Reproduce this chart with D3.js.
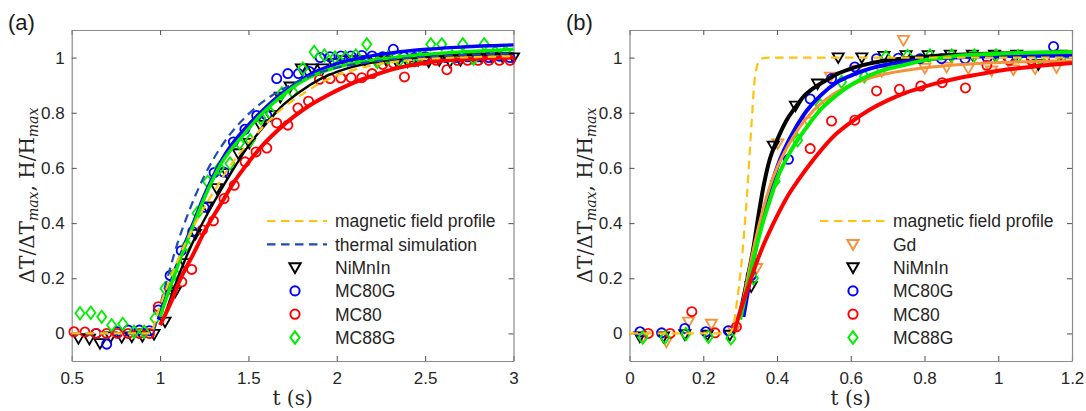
<!DOCTYPE html>
<html>
<head>
<meta charset="utf-8">
<script src="https://cdn.jsdelivr.net/npm/d3@7"></script>
<style>
  body { margin: 0; background: #fff; }
  svg { display: block; }
</style>
</head>
<body>
<svg id="chart" width="1086" height="411"></svg>
<script>
// ---------- shared axis values ----------
const yTicks = [0, 0.2, 0.4, 0.6, 0.8, 1];
const xTicksA = [0.5, 1, 1.5, 2, 2.5, 3];
const xTicksB = [0, 0.2, 0.4, 0.6, 0.8, 1, 1.2];
const legendA = ["magnetic field profile", "thermal simulation", "NiMnIn", "MC80G", "MC80", "MC88G"];
const legendB = ["magnetic field profile", "Gd", "NiMnIn", "MC80G", "MC80", "MC88G"];

// ---------- panel (a): measured points [t (s), normalised value] ----------
const aNiMnIn = [[0.538,-0.018],[0.600,-0.020],[0.660,-0.036],[0.720,-0.012],[0.783,-0.014],[0.840,-0.012],[0.900,-0.010],[0.966,-0.003],[1.028,0.042],[1.085,0.150],[1.141,0.254],[1.200,0.360],[1.264,0.459],[1.320,0.526],[1.380,0.580],[1.443,0.652],[1.505,0.690],[1.566,0.755],[1.625,0.790],[1.680,0.857],[1.736,0.894],[1.800,0.960],[1.860,0.960],[1.920,0.960],[1.980,0.980],[2.040,0.990],[2.100,0.990],[2.160,0.990],[2.220,0.990],[2.280,0.990],[2.340,0.985],[2.400,0.985],[2.460,0.990],[2.520,0.985],[2.580,0.990],[2.640,0.985],[2.700,0.990],[2.760,1.000],[2.820,1.000],[2.880,1.000],[2.940,1.000],[3.000,1.000]];
const aMC80G = [[0.638,0.000],[0.698,-0.039],[0.758,0.006],[0.820,0.012],[0.883,0.012],[0.940,0.010],[0.990,0.085],[1.057,0.210],[1.120,0.300],[1.185,0.369],[1.249,0.457],[1.306,0.583],[1.360,0.585],[1.415,0.694],[1.480,0.740],[1.547,0.790],[1.604,0.790],[1.660,0.924],[1.723,0.942],[1.783,0.942],[1.845,0.950],[1.906,1.000],[1.962,1.003],[2.023,1.006],[2.080,1.006],[2.142,1.008],[2.200,1.006],[2.260,1.003],[2.320,1.030],[2.380,1.003],[2.440,1.000],[2.500,1.003],[2.560,1.000],[2.620,1.000],[2.680,1.000],[2.740,1.003],[2.800,1.003],[2.860,1.000],[2.920,1.005],[2.980,1.000]];
const aMC80 = [[0.513,0.006],[0.575,0.005],[0.638,0.000],[0.698,0.000],[0.758,0.000],[0.820,0.000],[0.883,0.000],[0.940,0.000],[0.990,0.097],[1.055,0.160],[1.123,0.187],[1.179,0.232],[1.240,0.375],[1.302,0.408],[1.362,0.489],[1.420,0.537],[1.481,0.622],[1.543,0.658],[1.604,0.672],[1.660,0.763],[1.723,0.755],[1.780,0.817],[1.840,0.842],[1.902,0.921],[1.962,0.924],[2.023,0.926],[2.081,0.927],[2.142,0.927],[2.200,0.942],[2.260,0.975],[2.320,0.980],[2.383,0.930],[2.440,0.985],[2.500,0.990],[2.562,0.990],[2.623,0.956],[2.683,0.990],[2.740,0.990],[2.800,0.990],[2.860,0.990],[2.920,0.990],[2.980,0.990]];
const aMC88G = [[0.547,0.073],[0.608,0.075],[0.670,0.060],[0.726,0.030],[0.789,0.034],[0.853,0.006],[0.910,0.006],[0.972,0.054],[1.028,0.163],[1.085,0.217],[1.151,0.320],[1.210,0.436],[1.270,0.550],[1.335,0.600],[1.396,0.616],[1.450,0.690],[1.510,0.700],[1.570,0.780],[1.626,0.797],[1.689,0.870],[1.750,0.876],[1.808,0.960],[1.872,1.020],[1.930,1.008],[1.990,1.000],[2.050,1.000],[2.108,1.008],[2.170,1.048],[2.230,0.984],[2.290,1.000],[2.355,0.990],[2.415,0.990],[2.470,1.000],[2.532,1.048],[2.594,1.048],[2.653,1.005],[2.713,1.048],[2.774,0.996],[2.834,1.048],[2.896,1.020],[2.955,1.020]];

// panel (a): fitted curves, field profile and simulation
const aFitNiMnIn = [[1.02,0.05],[1.05,0.11],[1.1,0.2],[1.15,0.28],[1.2,0.35],[1.3,0.47],[1.4,0.58],[1.5,0.68],[1.6,0.76],[1.7,0.83],[1.8,0.88],[1.9,0.92],[2.0,0.948],[2.1,0.968],[2.2,0.982],[2.4,0.997],[2.6,1.006],[2.8,1.011],[3.0,1.015]];
const aFitMC80G = [[0.99,0.05],[1.05,0.165],[1.1,0.255],[1.15,0.34],[1.2,0.42],[1.25,0.5],[1.3,0.57],[1.35,0.63],[1.4,0.68],[1.47,0.735],[1.566,0.8],[1.65,0.85],[1.755,0.9],[1.85,0.94],[1.943,0.965],[2.04,0.985],[2.132,0.998],[2.23,1.01],[2.32,1.018],[2.51,1.03],[2.7,1.038],[2.92,1.044],[3.0,1.046]];
const aFitMC80 = [[1.0,0.03],[1.06,0.11],[1.11,0.19],[1.19,0.29],[1.26,0.38],[1.34,0.465],[1.42,0.55],[1.5,0.62],[1.57,0.675],[1.66,0.733],[1.755,0.785],[1.85,0.828],[1.943,0.862],[2.04,0.893],[2.132,0.918],[2.23,0.94],[2.32,0.958],[2.42,0.972],[2.51,0.982],[2.6,0.989],[2.7,0.994],[2.8,0.997],[2.92,0.999],[3.0,1.0]];
const aFitMC88G = [[1.0,0.06],[1.05,0.155],[1.1,0.245],[1.15,0.33],[1.2,0.41],[1.25,0.49],[1.3,0.56],[1.35,0.62],[1.4,0.665],[1.47,0.718],[1.566,0.79],[1.65,0.84],[1.755,0.894],[1.85,0.93],[1.943,0.954],[2.04,0.972],[2.132,0.984],[2.23,0.993],[2.32,1.0],[2.51,1.012],[2.7,1.02],[2.92,1.027],[3.0,1.03]];
const aField = [[0.5,0],[0.95,0],[0.97,0.04],[1.0,0.1],[1.05,0.185],[1.1,0.265],[1.2,0.4],[1.3,0.51],[1.4,0.61],[1.5,0.69],[1.6,0.76],[1.7,0.82],[1.8,0.865],[1.9,0.905],[2.0,0.935],[2.2,0.972],[2.4,0.99],[2.6,0.998],[2.8,1.002],[3.0,1.005]];
const aThermal = [[0.5,0],[0.95,0],[0.97,0.02],[1.0,0.1],[1.05,0.22],[1.1,0.33],[1.15,0.42],[1.2,0.5],[1.25,0.57],[1.3,0.63],[1.4,0.725],[1.5,0.795],[1.6,0.848],[1.7,0.888],[1.8,0.92],[1.9,0.945],[2.0,0.963],[2.2,0.985],[2.4,0.998],[2.6,1.006],[2.8,1.011],[3.0,1.015]];

// ---------- panel (b): measured points ----------
const bGd = [[0.037,-0.012],[0.100,-0.030],[0.160,0.042],[0.222,0.034],[0.282,0.010],[0.345,0.236],[0.402,0.688],[0.485,0.767],[0.545,0.930],[0.615,0.955],[0.684,0.950],[0.743,1.063],[0.801,0.962],[0.860,0.966],[0.919,0.960],[0.982,0.952],[1.041,0.956],[1.100,0.960],[1.158,0.964]];
const bNiMnIn = [[0.028,-0.012],[0.092,-0.012],[0.150,-0.004],[0.211,-0.006],[0.272,-0.006],[0.330,0.170],[0.390,0.680],[0.450,0.825],[0.510,0.905],[0.566,1.000],[0.630,1.000],[0.690,1.005],[0.750,1.008],[0.810,1.008],[0.870,1.010],[0.930,1.010],[0.990,1.010],[1.050,1.010],[1.109,0.975],[1.170,1.010]];
const bMC80G = [[0.0285,0.006],[0.087,0.002],[0.150,0.018],[0.207,0.006],[0.268,0.010],[0.330,0.210],[0.431,0.631],[0.490,0.850],[0.548,0.924],[0.611,0.966],[0.670,0.996],[0.729,0.998],[0.788,0.996],[0.846,0.996],[0.910,0.996],[0.970,1.000],[1.027,1.000],[1.090,1.003],[1.150,1.040]];
const bMC80 = [[0.051,0.000],[0.110,0.000],[0.169,0.079],[0.232,0.002],[0.290,0.024],[0.490,0.670],[0.548,0.770],[0.611,0.773],[0.670,0.879],[0.732,0.885],[0.790,0.897],[0.848,0.909],[0.911,0.890],[0.969,0.972],[1.030,0.990],[1.090,0.990],[1.150,0.995]];
const bMC88G = [[0.036,-0.015],[0.096,-0.015],[0.153,-0.002],[0.214,-0.012],[0.275,-0.018],[0.336,0.200],[0.395,0.552],[0.456,0.700],[0.517,0.827],[0.575,0.912],[0.637,0.932],[0.695,1.002],[0.754,1.006],[0.815,1.008],[0.874,1.008],[0.935,1.008],[0.994,1.008],[1.054,1.005],[1.113,0.996],[1.172,1.000]];

// panel (b): fitted curves and field profile
const bFitGd = [[0.30,0.06],[0.32,0.2],[0.34,0.33],[0.36,0.44],[0.38,0.53],[0.40,0.6],[0.43,0.68],[0.46,0.745],[0.50,0.81],[0.55,0.865],[0.60,0.9],[0.65,0.925],[0.70,0.942],[0.80,0.963],[0.90,0.975],[1.0,0.982],[1.1,0.986],[1.2,0.988]];
const bFitNiMnIn = [[0.30,0.07],[0.32,0.2],[0.336,0.31],[0.35,0.43],[0.363,0.53],[0.381,0.634],[0.40,0.70],[0.426,0.773],[0.45,0.82],[0.471,0.857],[0.50,0.89],[0.53,0.915],[0.562,0.94],[0.607,0.963],[0.65,0.978],[0.70,0.99],[0.79,1.002],[0.88,1.01],[0.97,1.014],[1.07,1.017],[1.2,1.018]];
const bFitMC80G = [[0.309,0.06],[0.33,0.22],[0.35,0.36],[0.372,0.48],[0.39,0.56],[0.408,0.63],[0.44,0.72],[0.471,0.79],[0.52,0.865],[0.562,0.91],[0.61,0.94],[0.652,0.96],[0.70,0.975],[0.743,0.984],[0.80,0.993],[0.878,1.0],[1.0,1.005],[1.2,1.008]];
const bFitMC80 = [[0.285,0.01],[0.30,0.08],[0.32,0.16],[0.34,0.24],[0.36,0.31],[0.38,0.37],[0.40,0.425],[0.43,0.5],[0.46,0.56],[0.49,0.615],[0.52,0.665],[0.55,0.71],[0.60,0.765],[0.65,0.81],[0.70,0.845],[0.75,0.873],[0.80,0.895],[0.85,0.913],[0.90,0.928],[0.95,0.94],[1.0,0.952],[1.1,0.968],[1.2,0.98]];
const bFitMC88G = [[0.30,0.05],[0.32,0.17],[0.34,0.29],[0.36,0.395],[0.38,0.48],[0.40,0.56],[0.426,0.634],[0.45,0.69],[0.471,0.73],[0.517,0.81],[0.562,0.864],[0.607,0.906],[0.65,0.935],[0.697,0.958],[0.75,0.975],[0.79,0.988],[0.88,1.005],[1.0,1.014],[1.2,1.02]];
const bField = [[0,0],[0.27,0],[0.28,0.02],[0.29,0.1],[0.304,0.26],[0.318,0.49],[0.331,0.76],[0.338,0.9],[0.345,0.965],[0.352,0.988],[0.36,0.997],[0.38,1.0],[0.45,1.0],[1.2,1.0]];

// ---------- styling ----------
const COL = {
  field: "#ffc20e", thermal: "#1f4bb4", black: "#000000", blue: "#0000ff",
  red: "#ff0000", green: "#00ee00", orange: "#f7923a"
};
const TICK_FONT = "'Liberation Sans', Arial, sans-serif";
const MATH_FONT = "'DejaVu Serif', 'Liberation Serif', serif";
const tickFmt = d3.format("~g");

// marker outlines centred on (0,0)
const shapes = {
  circle: "M4.6,0A4.6,4.6 0 1,1 -4.6,0A4.6,4.6 0 1,1 4.6,0Z",
  triDown: "M-5.6,-4.3L5.6,-4.3L0,5.4Z",
  diamond: "M0,-6.2L4.6,0L0,6.2L-4.6,0Z"
};

const svg = d3.select("#chart");
const yScaleRange = [361, 30];

function drawPanel(p) {
  const x = d3.scaleLinear().domain(p.xDomain).range([p.left, p.right]);
  const y = d3.scaleLinear().domain([-0.1, 1.1]).range(yScaleRange);
  const g = svg.append("g");

  const styleAxis = sel => {
    sel.select(".domain").attr("stroke", "#8a8a8a").attr("stroke-width", 1.2);
    sel.selectAll(".tick line").attr("stroke", "#5e5e5e").attr("stroke-width", 1.1);
    sel.selectAll(".tick text").attr("fill", "#262626")
      .style("font-family", TICK_FONT).style("font-size", "17px");
  };

  g.append("g").attr("transform", `translate(0,${y(-0.1)})`)
    .call(d3.axisBottom(x).tickValues(p.xTicks).tickFormat(tickFmt).tickSize(-5).tickSizeOuter(0).tickPadding(10.5))
    .call(styleAxis);
  g.append("g").attr("transform", `translate(0,${y(1.1)})`)
    .call(d3.axisTop(x).tickValues(p.xTicks).tickSize(-5).tickSizeOuter(0).tickFormat(""))
    .call(styleAxis);
  g.append("g").attr("transform", `translate(${p.left},0)`)
    .call(d3.axisLeft(y).tickValues(yTicks).tickFormat(tickFmt).tickSize(-5).tickSizeOuter(0).tickPadding(7))
    .call(styleAxis);
  g.append("g").attr("transform", `translate(${p.right},0)`)
    .call(d3.axisRight(y).tickValues(yTicks).tickSize(-5).tickSizeOuter(0).tickFormat(""))
    .call(styleAxis);

  // measured points
  p.markers.forEach(m => {
    g.append("g").selectAll("path").data(m.data).join("path")
      .attr("transform", d => `translate(${x(d[0])},${y(d[1])})`)
      .attr("d", shapes[m.shape])
      .attr("fill", "none").attr("stroke", m.color).attr("stroke-width", 1.8);
  });

  // curves
  const line = d3.line().x(d => x(d[0])).y(d => y(d[1])).curve(d3.curveMonotoneX);
  p.lines.forEach(l => {
    g.append("path").datum(l.data).attr("d", line)
      .attr("fill", "none").attr("stroke", l.color).attr("stroke-width", l.width)
      .attr("stroke-dasharray", l.dash || null).attr("stroke-linejoin", "round");
  });

  // legend
  p.legend.forEach((e, i) => {
    const ly = 221 + i * 23.3;
    if (e.kind === "line") {
      g.append("line").attr("x1", p.legX1).attr("x2", p.legX2).attr("y1", ly).attr("y2", ly)
        .attr("stroke", e.color).attr("stroke-width", 2.2).attr("stroke-dasharray", "8.5,5.5");
    } else {
      g.append("path").attr("transform", `translate(${p.legMark},${ly})`)
        .attr("d", shapes[e.shape]).attr("fill", "none")
        .attr("stroke", e.color).attr("stroke-width", 2);
    }
    g.append("text").attr("x", p.legText).attr("y", ly + 6.3)
      .attr("fill", "#262626").style("font-family", TICK_FONT).style("font-size", "17.5px")
      .text(e.label);
  });

  // axis titles
  const yl = g.append("text")
    .attr("transform", `translate(${p.yLabelX},${(y(-0.1) + y(1.1)) / 2}) rotate(-90)`)
    .attr("text-anchor", "middle").attr("fill", "#262626")
    .style("font-family", MATH_FONT).style("font-size", "20px");
  yl.append("tspan").text("\u0394T/\u0394T");
  yl.append("tspan").attr("baseline-shift", "-25%").style("font-size", "14px").style("font-style", "italic").text("max");
  yl.append("tspan").text(", H/H");
  yl.append("tspan").attr("baseline-shift", "-25%").style("font-size", "14px").style("font-style", "italic").text("max");

  g.append("text").attr("x", (p.left + p.right) / 2).attr("y", 405)
    .attr("text-anchor", "middle").attr("fill", "#262626")
    .style("font-family", MATH_FONT).style("font-size", "20px").text("t (s)");

  g.append("text").attr("x", p.tagX).attr("y", 30)
    .attr("fill", "#1a1a1a").style("font-family", TICK_FONT).style("font-size", "22px")
    .text(p.tag);
}

drawPanel({
  tag: "(a)", tagX: 8, xDomain: [0.5, 3], xTicks: xTicksA, left: 71.7, right: 513.5,
  yLabelX: 34,
  markers: [
    { data: aNiMnIn, shape: "triDown", color: COL.black },
    { data: aMC80G, shape: "circle", color: COL.blue },
    { data: aMC80, shape: "circle", color: COL.red },
    { data: aMC88G, shape: "diamond", color: COL.green }
  ],
  lines: [
    { data: aFitNiMnIn, color: COL.black, width: 2.4 },
    { data: aFitMC80G, color: COL.blue, width: 3.4 },
    { data: aFitMC80, color: COL.red, width: 4 },
    { data: aFitMC88G, color: COL.green, width: 3.4 },
    { data: aThermal, color: COL.thermal, width: 2.2, dash: "8.5,5.5" },
    { data: aField, color: COL.field, width: 2.2, dash: "8.5,5.5" }
  ],
  legX1: 267, legX2: 327, legMark: 295, legText: 335,
  legend: [
    { kind: "line", color: COL.field, label: legendA[0] },
    { kind: "line", color: COL.thermal, label: legendA[1] },
    { kind: "mark", shape: "triDown", color: COL.black, label: legendA[2] },
    { kind: "mark", shape: "circle", color: COL.blue, label: legendA[3] },
    { kind: "mark", shape: "circle", color: COL.red, label: legendA[4] },
    { kind: "mark", shape: "diamond", color: COL.green, label: legendA[5] }
  ]
});

drawPanel({
  tag: "(b)", tagX: 566, xDomain: [0, 1.2], xTicks: xTicksB, left: 629.5, right: 1072,
  yLabelX: 592,
  markers: [
    { data: bGd, shape: "triDown", color: COL.orange },
    { data: bNiMnIn, shape: "triDown", color: COL.black },
    { data: bMC80G, shape: "circle", color: COL.blue },
    { data: bMC80, shape: "circle", color: COL.red },
    { data: bMC88G, shape: "diamond", color: COL.green }
  ],
  lines: [
    { data: bFitNiMnIn, color: COL.black, width: 4 },
    { data: bFitMC80G, color: COL.blue, width: 4 },
    { data: bFitGd, color: COL.orange, width: 3 },
    { data: bFitMC88G, color: COL.green, width: 4 },
    { data: bFitMC80, color: COL.red, width: 4 },
    { data: bField, color: COL.field, width: 2.2, dash: "8.5,5.5" }
  ],
  legX1: 820, legX2: 885, legMark: 853, legText: 893,
  legend: [
    { kind: "line", color: COL.field, label: legendB[0] },
    { kind: "mark", shape: "triDown", color: COL.orange, label: legendB[1] },
    { kind: "mark", shape: "triDown", color: COL.black, label: legendB[2] },
    { kind: "mark", shape: "circle", color: COL.blue, label: legendB[3] },
    { kind: "mark", shape: "circle", color: COL.red, label: legendB[4] },
    { kind: "mark", shape: "diamond", color: COL.green, label: legendB[5] }
  ]
});
</script>
</body>
</html>
